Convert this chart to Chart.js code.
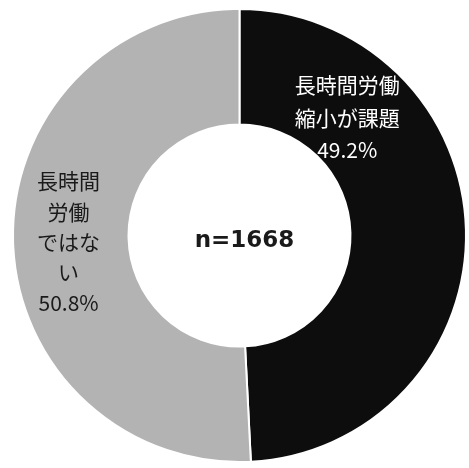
<!DOCTYPE html>
<html>
<head>
<meta charset="utf-8">
<script src="https://cdn.jsdelivr.net/npm/chart.js@4"></script>
<style>
  html, body { margin: 0; padding: 0; background: #fff; }
  #wrap { width: 469px; height: 468px; }
</style>
</head>
<body>
<div id="wrap"><canvas id="chart" width="469" height="468"></canvas></div>
<script>
// data
const categories = ['長時間労働縮小が課題', '長時間労働ではない'];
const labelLines = [['長時間労働', '縮小が課題'], ['長時間', '労働', 'ではな', 'い']];
const shares = [49.2, 50.8];
const sampleSize = 1668;

const sliceColors = ['#0d0d0d', '#b3b3b3'];
const textColors = ['#ffffff', '#1a1a1a'];
// where the label sits inside its slice: fraction along the arc, fraction across the ring
const labelPlace = [
  { along: 0.24, across: 0.42, lineH: 32.5 },
  { along: 0.496, across: 0.52, lineH: 30.3 }
];

const sliceLabels = {
  id: 'sliceLabels',
  afterDatasetsDraw(chart) {
    const ctx = chart.ctx;
    const arcs = chart.getDatasetMeta(0).data;
    ctx.save();
    ctx.font = '21px "Noto Sans CJK JP"';
    ctx.textAlign = 'center';
    ctx.textBaseline = 'middle';
    arcs.forEach((arc, i) => {
      const p = arc.getProps(['x', 'y', 'startAngle', 'endAngle', 'innerRadius', 'outerRadius'], true);
      const pl = labelPlace[i];
      const a = p.startAngle + pl.along * (p.endAngle - p.startAngle);
      const r = p.innerRadius + pl.across * (p.outerRadius - p.innerRadius);
      const cx = p.x + r * Math.cos(a);
      const cy = p.y + r * Math.sin(a);
      const lines = labelLines[i].concat([shares[i].toFixed(1) + '%']);
      const top = cy - (lines.length - 1) * pl.lineH / 2;
      ctx.fillStyle = textColors[i];
      lines.forEach((t, k) => ctx.fillText(t, cx, top + k * pl.lineH));
    });
    // centre text
    const a0 = arcs[0];
    ctx.font = 'bold 23px "DejaVu Sans"';
    ctx.fillStyle = '#1a1a1a';
    ctx.fillText('n=' + sampleSize, a0.x + 5, a0.y + 6);
    ctx.restore();
  }
};

new Chart(document.getElementById('chart').getContext('2d'), {
  type: 'doughnut',
  data: {
    labels: categories,
    datasets: [{
      data: shares,
      backgroundColor: sliceColors,
      borderColor: '#ffffff',
      borderWidth: 2
    }]
  },
  options: {
    responsive: false,
    animation: false,
    cutout: '49%',
    layout: { padding: { left: 12, right: 2, top: 7, bottom: 4 } },
    plugins: {
      legend: { display: false },
      tooltip: { enabled: false }
    }
  },
  plugins: [sliceLabels]
});
</script>
</body>
</html>
